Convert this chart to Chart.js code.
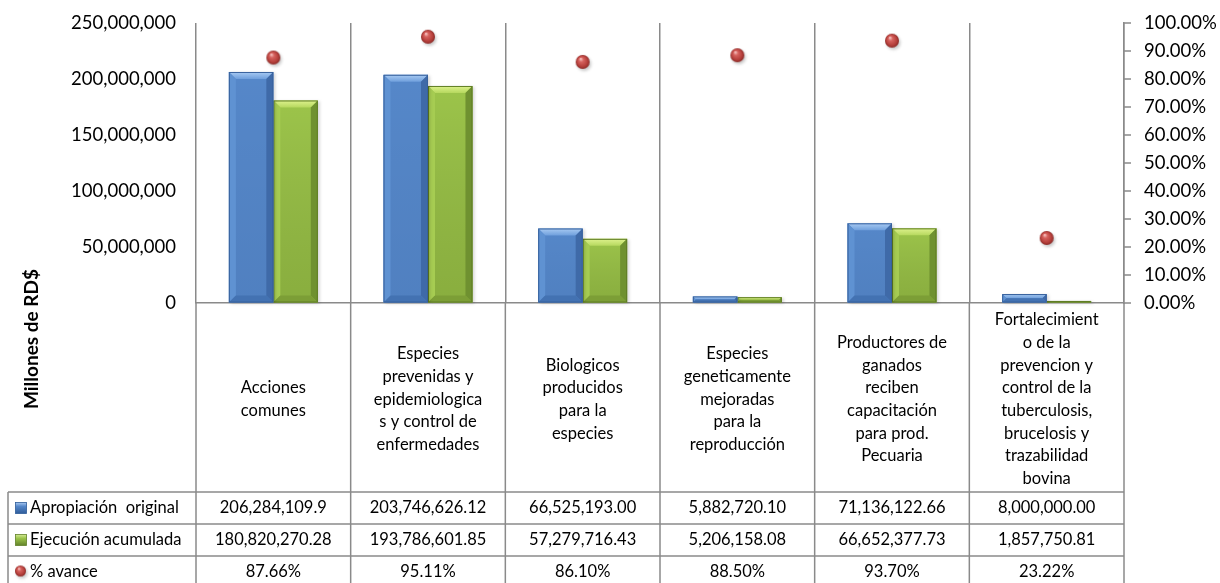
<!DOCTYPE html>
<html><head><meta charset="utf-8">
<script src="https://cdn.jsdelivr.net/npm/chart.js@4/dist/chart.umd.min.js"></script>
<style>html,body{margin:0;padding:0;background:#fff}#wrap{width:1220px;height:583px;position:relative;overflow:hidden}</style>
</head><body><div id="wrap"><canvas id="c" width="1220" height="583"></canvas></div>
<script>
// ---------- DATA ----------
const categories = [
  ["Acciones", "comunes"],
  ["Especies", "prevenidas y", "epidemiologica", "s y control de", "enfermedades"],
  ["Biologicos", "producidos", "para la", "especies"],
  ["Especies", "geneticamente", "mejoradas", "para la", "reproducción"],
  ["Productores de", "ganados", "reciben", "capacitación", "para prod.", "Pecuaria"],
  ["Fortalecimient", "o de la", "prevencion y", "control de la", "tuberculosis,", "brucelosis y", "trazabilidad", "bovina"]
];
const seriesNames = ["Apropiación  original", "Ejecución acumulada", "% avance"];
const apropiacion = [206284109.9, 203746626.12, 66525193.00, 5882720.10, 71136122.66, 8000000.00];
const apropiacionDecimals = [1, 2, 2, 2, 2, 2];
const ejecucion = [180820270.28, 193786601.85, 57279716.43, 5206158.08, 66652377.73, 1857750.81];
const ejecucionDecimals = [2, 2, 2, 2, 2, 2];
const avance = [87.66, 95.11, 86.10, 88.50, 93.70, 23.22];
const leftTicks = [0, 50000000, 100000000, 150000000, 200000000, 250000000];
const rightTicks = [0, 10, 20, 30, 40, 50, 60, 70, 80, 90, 100];
const yTitle = "Millones de RD$";

// ---------- STYLE ----------
const FONT = "Lato, 'Open Sans', sans-serif";
const GRID = '#8a8a8a';
const BLUE = '#5587c9';
const GREEN = '#9cc44a';
const CLEAR = 'rgba(0,0,0,0)';

function fmtNum(v, d) {
  return v.toLocaleString('en-US', {minimumFractionDigits: d, maximumFractionDigits: d});
}

function makeSphere(r) {
  const s = document.createElement('canvas');
  const size = Math.ceil((r + 5) * 2);
  s.width = size; s.height = size;
  const c = s.getContext('2d');
  const cx = size / 2, cy = size / 2;
  c.save();
  c.filter = 'blur(1.5px)';
  c.fillStyle = 'rgba(0,0,0,0.22)';
  c.beginPath(); c.arc(cx + 1.5, cy + 2, r, 0, Math.PI * 2); c.fill();
  c.restore();
  const g = c.createRadialGradient(cx - r * 0.3, cy - r * 0.45, r * 0.05, cx, cy, r);
  g.addColorStop(0, '#f6c4c1');
  g.addColorStop(0.3, '#d6625e');
  g.addColorStop(0.75, '#b53f3b');
  g.addColorStop(1, '#8a2a27');
  c.fillStyle = g;
  c.beginPath(); c.arc(cx, cy, r, 0, Math.PI * 2); c.fill();
  return s;
}
const sphere = makeSphere(7);
const sphereSmall = makeSphere(5.5);

function poly(ctx, pts, fill) {
  ctx.beginPath();
  ctx.moveTo(pts[0][0], pts[0][1]);
  for (let i = 1; i < pts.length; i++) ctx.lineTo(pts[i][0], pts[i][1]);
  ctx.closePath();
  ctx.fillStyle = fill;
  ctx.fill();
}

const PAL = {
  blue: {top1: '#a9cbf3', top2: '#6f9fdc', left: '#5f92d2', right: '#3f6aa8', bottom: '#4372b2', line: '#37619c', shade: 'rgba(0,20,60,0.06)'},
  green: {top1: '#def28e', top2: '#b6d85e', left: '#a6cc52', right: '#6f9130', bottom: '#7c9e36', line: '#5f7d25', shade: 'rgba(40,60,0,0.16)'}
};

function bevel(ctx, x0, x1, yT, yB, pal) {
  const w = x1 - x0, h = yB - yT;
  if (h <= 0) return;
  const b = Math.max(0.5, Math.min(7, w / 4, h / 2));
  const g = ctx.createLinearGradient(0, yT, 0, yB);
  g.addColorStop(0, 'rgba(0,0,0,0)');
  g.addColorStop(1, pal.shade);
  ctx.fillStyle = g; ctx.fillRect(x0, yT, w, h);
  const tg = ctx.createLinearGradient(0, yT, 0, yT + b);
  tg.addColorStop(0, pal.top1); tg.addColorStop(1, pal.top2);
  poly(ctx, [[x0, yT], [x1, yT], [x1 - b, yT + b], [x0 + b, yT + b]], tg);
  poly(ctx, [[x0, yT], [x0 + b, yT + b], [x0 + b, yB - b], [x0, yB]], pal.left);
  poly(ctx, [[x1, yT], [x1, yB], [x1 - b, yB - b], [x1 - b, yT + b]], pal.right);
  poly(ctx, [[x0, yB], [x0 + b, yB - b], [x1 - b, yB - b], [x1, yB]], pal.bottom);
  ctx.strokeStyle = pal.line;
  ctx.lineWidth = 1;
  ctx.strokeRect(x0 + 0.5, yT + 0.5, w - 1, Math.max(0, h - 1));
}

const bevelPlugin = {
  id: 'bevel',
  beforeDatasetDraw(chart, args) {
    const ds = chart.data.datasets[args.index];
    if (ds.type === 'line') return;
    const ctx = chart.ctx;
    ctx.save();
    ctx.filter = 'blur(1.5px)';
    ctx.fillStyle = 'rgba(0,0,0,0.16)';
    args.meta.data.forEach(el => {
      const p = el.getProps(['x', 'y', 'base', 'width'], true);
      ctx.fillRect(p.x - p.width / 2 + 2, p.y + 1, p.width, p.base - p.y);
    });
    ctx.restore();
  },
  afterDatasetDraw(chart, args) {
    const ds = chart.data.datasets[args.index];
    if (ds.type === 'line') return;
    const ctx = chart.ctx;
    ctx.save();
    args.meta.data.forEach(el => {
      const p = el.getProps(['x', 'y', 'base', 'width'], true);
      bevel(ctx, p.x - p.width / 2, p.x + p.width / 2, p.y, p.base, args.index === 2 ? PAL.green : PAL.blue);
    });
    ctx.restore();
  }
};

const tablePlugin = {
  id: 'dataTable',
  afterDraw(chart) {
    const ctx = chart.ctx;
    const xs = chart.scales.x;
    const y1 = chart.scales.y1;
    const area = chart.chartArea;
    const n = categories.length;
    const step = xs.getPixelForTick(1) - xs.getPixelForTick(0);
    const bounds = [];
    for (let i = 0; i <= n; i++) bounds.push(xs.getPixelForTick(0) - step / 2 + i * step);
    const rowTops = [492, 524, 556];
    const rowH = 32;
    const tableLeft = 8;
    ctx.save();
    ctx.strokeStyle = GRID;
    ctx.lineWidth = 1.5;
    // right axis tick marks (outside)
    rightTicks.forEach(v => {
      const py = y1.getPixelForValue(v);
      ctx.beginPath(); ctx.moveTo(area.right, py); ctx.lineTo(area.right + 7, py); ctx.stroke();
    });
    bounds.forEach(bx => {
      ctx.beginPath(); ctx.moveTo(bx, area.bottom); ctx.lineTo(bx, 583); ctx.stroke();
    });
    ctx.beginPath(); ctx.moveTo(tableLeft, rowTops[0]); ctx.lineTo(tableLeft, 583); ctx.stroke();
    rowTops.forEach(y => {
      ctx.beginPath(); ctx.moveTo(tableLeft, y); ctx.lineTo(bounds[n], y); ctx.stroke();
    });
    ctx.fillStyle = '#000';
    ctx.font = '16.5px ' + FONT;
    ctx.textBaseline = 'middle';
    const rows = [
      apropiacion.map((v, i) => fmtNum(v, apropiacionDecimals[i])),
      ejecucion.map((v, i) => fmtNum(v, ejecucionDecimals[i])),
      avance.map(v => v.toFixed(2) + '%')
    ];
    rows.forEach((r, ri) => {
      const cy = rowTops[ri] + rowH / 2;
      ctx.textAlign = 'left';
      ctx.fillStyle = '#000';
      ctx.fillText(seriesNames[ri], 30, cy);
      ctx.textAlign = 'center';
      r.forEach((t, ci) => ctx.fillText(t, xs.getPixelForTick(ci), cy));
    });
    const keyY0 = rowTops[0] + rowH / 2 - 5.5;
    const keyY1 = rowTops[1] + rowH / 2 - 5.5;
    [[keyY0, BLUE, '#2f5c9a', '#a9c8f0'], [keyY1, GREEN, '#62822a', '#d4ea96']].forEach(([ky, base, dark, light]) => {
      const g = ctx.createLinearGradient(0, ky, 0, ky + 11);
      g.addColorStop(0, light); g.addColorStop(0.35, base); g.addColorStop(1, dark);
      ctx.fillStyle = g;
      ctx.fillRect(15.5, ky, 11, 11);
      ctx.strokeStyle = dark; ctx.lineWidth = 0.8;
      ctx.strokeRect(15.5, ky, 11, 11);
    });
    ctx.drawImage(sphereSmall, 20.5 - sphereSmall.width / 2, rowTops[2] + rowH / 2 - 1 - sphereSmall.height / 2);
    ctx.translate(32, 339);
    ctx.rotate(-Math.PI / 2);
    ctx.font = 'bold 19px ' + FONT;
    ctx.textAlign = 'center';
    ctx.fillStyle = '#000';
    ctx.fillText(yTitle, 0, 0);
    ctx.restore();
  }
};

new Chart(document.getElementById('c'), {
  type: 'bar',
  data: {
    labels: categories,
    datasets: [
      {
        type: 'line', label: seriesNames[2], data: avance, yAxisID: 'y1',
        showLine: false, pointStyle: sphere, pointRadius: 7, pointHoverRadius: 7, order: 1
      },
      {
        label: seriesNames[0], data: apropiacion, backgroundColor: BLUE, borderWidth: 0,
        yAxisID: 'y', categoryPercentage: 0.575, barPercentage: 1.0, order: 2
      },
      {
        label: seriesNames[1], data: ejecucion, backgroundColor: GREEN, borderWidth: 0,
        yAxisID: 'y', categoryPercentage: 0.575, barPercentage: 1.0, order: 2
      }
    ]
  },
  options: {
    responsive: false,
    animation: false,
    layout: {padding: {top: 23, left: 0, right: 0, bottom: 0}},
    plugins: {legend: {display: false}, tooltip: {enabled: false}},
    scales: {
      x: {
        offset: true,
        grid: {display: true, drawOnChartArea: true, drawTicks: false, offset: true, color: GRID, lineWidth: 1.5},
        border: {display: true, color: GRID, width: 1.5},
        ticks: {
          autoSkip: false, maxRotation: 0, minRotation: 0, padding: 17, crossAlign: 'center',
          color: '#000', font: {family: FONT, size: 16.5, lineHeight: 1.375}
        },
        afterFit(s) { s.height = 280; }
      },
      y: {
        position: 'left',
        min: leftTicks[0], max: leftTicks[leftTicks.length - 1],
        afterBuildTicks(s) { s.ticks = leftTicks.map(v => ({value: v})); },
        grid: {display: true, drawOnChartArea: false, drawTicks: true, tickLength: 20, color: CLEAR},
        border: {display: false},
        ticks: {
          padding: 0, color: '#000', font: {family: FONT, size: 18.5},
          callback: v => Number(v).toLocaleString('en-US')
        },
        afterFit(s) { s.width = 196; }
      },
      y1: {
        position: 'right',
        min: rightTicks[0], max: rightTicks[rightTicks.length - 1],
        afterBuildTicks(s) { s.ticks = rightTicks.map(v => ({value: v})); },
        grid: {display: true, drawOnChartArea: false, drawTicks: true, tickLength: 20, color: CLEAR},
        border: {display: true, color: GRID, width: 1.5},
        ticks: {
          padding: 0, color: '#000', font: {family: FONT, size: 18.5},
          callback: v => Number(v).toFixed(2) + '%'
        },
        afterFit(s) { s.width = 96; }
      }
    }
  },
  plugins: [bevelPlugin, tablePlugin]
});
</script>
</body></html>
